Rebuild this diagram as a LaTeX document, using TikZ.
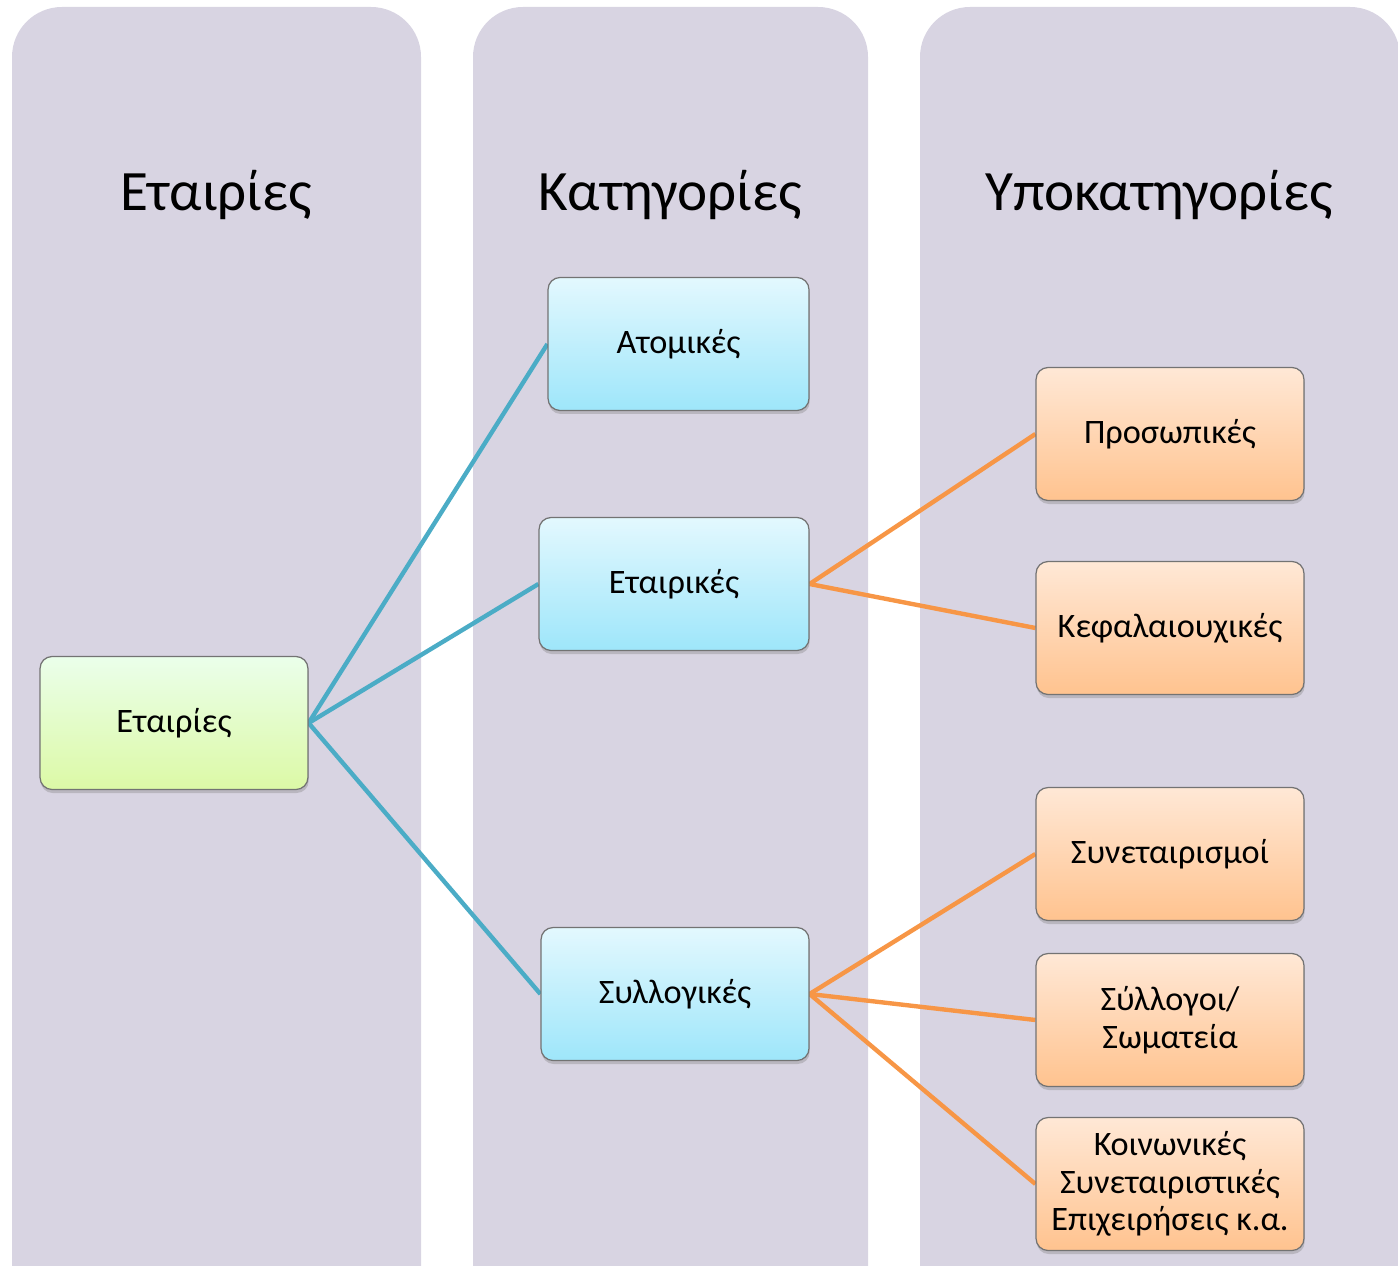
\documentclass[tikz,border=0pt]{standalone}
\usepackage{fontspec}
\setmainfont{Carlito}
\usetikzlibrary{positioning,shadows}

\definecolor{colfill}{HTML}{D8D4E2}
\definecolor{blueline}{HTML}{4BACC6}
\definecolor{orangeline}{HTML}{F79646}
\definecolor{bordergray}{HTML}{737373}

\pgfdeclarelayer{cols}
\pgfdeclarelayer{links}
\pgfsetlayers{cols,links,main}

\tikzset{
  column/.style={fill=colfill, rounded corners=1cm},
  header/.style={font=\fontsize{32.5}{38}\selectfont},
  card/.style={draw=bordergray, line width=0.7pt, rounded corners=0.24cm,
    minimum width=5.36cm, minimum height=2.66cm, align=center,
    font=\fontsize{19.5}{21.5}\selectfont,
    drop shadow={shadow xshift=0.4pt, shadow yshift=-2pt, opacity=0.35}},
  rootcard/.style={card, top color=green!8!white, bottom color={rgb,255:red,220;green,249;blue,166}},
  catcard/.style={card, top color={rgb,255:red,227;green,248;blue,254}, bottom color={rgb,255:red,158;green,230;blue,250}},
  subcard/.style={card, top color={rgb,255:red,255;green,232;blue,214}, bottom color={rgb,255:red,255;green,195;blue,143}},
  catlink/.style={draw=blueline, line width=2.5pt},
  sublink/.style={draw=orangeline, line width=2.5pt}
}

\begin{document}
\begin{tikzpicture}[x=0.02cm, y=-0.02cm]
  \useasboundingbox (0,0) rectangle (1398,1266);
  \clip (0,0) rectangle (1398,1266);

  % the three columns
  \begin{pgfonlayer}{cols}
    \fill[column] (12,1320) |- (421,7) -- (421,1320);
    \fill[column] (473,1320) |- (868,7) -- (868,1320);
    \fill[column] (920,1320) |- (1400,7) -- (1400,1320);
  \end{pgfonlayer}

  \node[header] (h1) at (216,195) {Εταιρίες};
  \node[header] (h2) at (670,195) {Κατηγορίες};
  \node[header] (h3) at (1159,195) {Υποκατηγορίες};

  % cards
  \node[rootcard] (firms) at (174,723) {Εταιρίες};

  \node[catcard, minimum width=5.22cm] (atomikes) at (678.5,344) {Ατομικές};
  \node[catcard, minimum width=5.4cm] (etairikes) at (674,584) {Εταιρικές};
  \node[catcard] (syllogikes) at (675,994) {Συλλογικές};

  \node[subcard] (prosopikes) at (1170,434) {Προσωπικές};
  \node[subcard] (kefal) at (1170,628) {Κεφαλαιουχικές};
  \node[subcard] (synet) at (1170,854) {Συνεταιρισμοί};
  \node[subcard] (somateia) at (1170,1020) {Σύλλογοι/\\Σωματεία};
  \node[subcard] (koinsep) at (1170,1184) {Κοινωνικές\\Συνεταιριστικές\\Επιχειρήσεις κ.α.};

  \begin{pgfonlayer}{links}
    \draw[catlink] (firms.east) -- (atomikes.west);
    \draw[catlink] (firms.east) -- (etairikes.west);
    \draw[catlink] (firms.east) -- (syllogikes.west);
    \draw[sublink] (etairikes.east) -- (prosopikes.west);
    \draw[sublink] (etairikes.east) -- (kefal.west);
    \draw[sublink] (syllogikes.east) -- (synet.west);
    \draw[sublink] (syllogikes.east) -- (somateia.west);
    \draw[sublink] (syllogikes.east) -- (koinsep.west);
  \end{pgfonlayer}
\end{tikzpicture}
\end{document}
